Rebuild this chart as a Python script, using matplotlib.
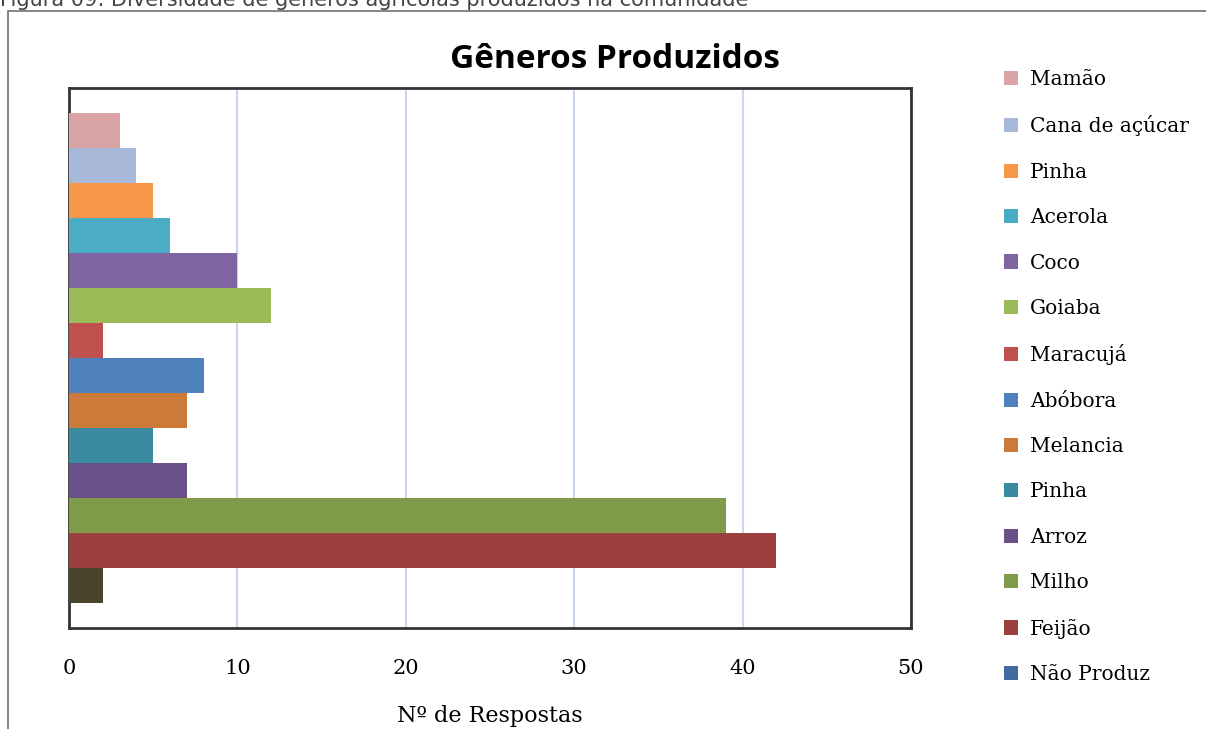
import matplotlib
matplotlib.use("Agg")
import matplotlib.pyplot as plt
from matplotlib.patches import Patch, Rectangle

categories = ["Mamão", "Cana de açúcar", "Pinha", "Acerola", "Coco", "Goiaba",
              "Maracujá", "Abóbora", "Melancia", "Pinha", "Arroz", "Milho",
              "Feijão", "Não Produz"]
values = [3, 4, 5, 6, 10, 12, 2, 8, 7, 5, 7, 39, 42, 2]
bar_colors = ["#D9A3A5", "#A8B8D8", "#F79646", "#4BACC6", "#8064A2", "#9BBB59",
              "#C0504D", "#4F81BD", "#CC7A3A", "#3A8BA0", "#6A5088", "#7F9A48",
              "#9B403E", "#4A452A"]
legend_colors = bar_colors[:-1] + ["#436A9E"]
x_ticks = [0, 10, 20, 30, 40, 50]

W, H = 1206, 729
fig = plt.figure(figsize=(W / 100, H / 100), dpi=100)

# outer frame and cut caption
fig.add_artist(Rectangle((8 / W, -0.1), 1.2, 1 - 11 / H + 0.1, transform=fig.transFigure,
                         fill=False, edgecolor="#6f6f6f", linewidth=1.2))
fig.text(0.0, 1 + 1 / H, "Figura 09: Diversidade de gêneros agrícolas produzidos na comunidade",
         ha="left", va="center", fontsize=15, color="#444444", family="DejaVu Sans")

ax = fig.add_axes([69 / W, 1 - 628 / H, (911 - 69) / W, (628 - 88) / H])
pad = 0.714
for i, (cat, val, col) in enumerate(zip(categories, values, bar_colors)):
    ax.barh(i, val, height=1.0, color=col, label=cat, zorder=3)

ax.set_xlim(0, 50)
ax.set_ylim(len(values) - 0.5 + pad, -0.5 - pad)
ax.set_yticks([])
ax.set_xticks(x_ticks)
ax.set_xticklabels([str(t) for t in x_ticks], family="DejaVu Serif", fontsize=15)
ax.tick_params(axis="x", length=0, pad=22)
ax.grid(axis="x", color="#C9D6EC", linewidth=1.5, zorder=0)
for s in ax.spines.values():
    s.set_color("#333333")
    s.set_linewidth(2)
ax.set_xlabel("Nº de Respostas", family="DejaVu Serif", fontsize=16, labelpad=20)

fig.text(615 / W, 1 - 60 / H, "Gêneros Produzidos", ha="center", va="center",
         fontsize=24, fontweight="bold", family="Open Sans")

handles = [Patch(facecolor=c, edgecolor="none") for c in legend_colors]
fig.legend(handles, categories, loc="upper left", bbox_to_anchor=(1004 / W, 1 - 70 / H),
           frameon=False, prop={"family": "DejaVu Serif", "size": 14.5},
           handlelength=0.7, handleheight=0.7, handletextpad=0.6, labelspacing=1.31,
           borderaxespad=0, borderpad=0)

fig.savefig("out.png", dpi=100)
